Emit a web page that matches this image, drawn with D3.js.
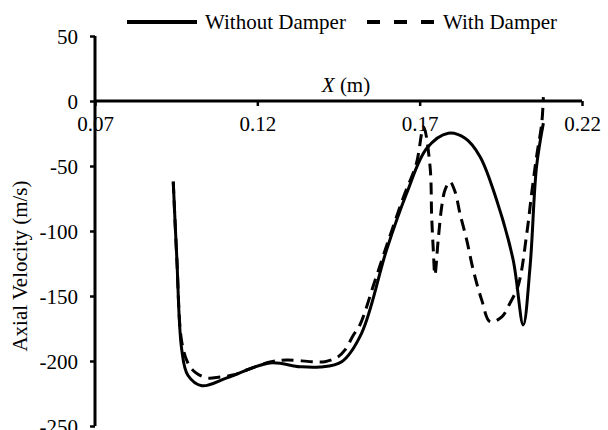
<!DOCTYPE html>
<html>
<head>
<meta charset="utf-8">
<script src="https://cdn.jsdelivr.net/npm/d3@7"></script>
<style>
  body { margin: 0; background: #fff; }
  svg text { font-family: "Liberation Serif", "Times New Roman", serif; font-size: 21px; fill: #000; }
</style>
</head>
<body>
<div id="chart"></div>
<script>
// 数据：点 (X 单位 m, 速度 m/s)
const xTicks = [0.07, 0.12, 0.17, 0.22];
const yTicks = [50, 0, -50, -100, -150, -200, -250];

const withoutX = [0.0941, 0.0952, 0.0967, 0.0986, 0.1029, 0.1106, 0.1239, 0.1331, 0.1393, 0.1460,
  0.1521, 0.1598, 0.1660, 0.1722, 0.1788, 0.1840, 0.1886, 0.1937, 0.1988, 0.2019, 0.2040, 0.2060, 0.2081];
const withoutY = [-62, -121, -191, -211, -219, -213, -201.5, -204.4, -204.6, -200.5,
  -178.7, -114.6, -71, -36.4, -24.8, -28.7, -42.8, -76.2, -122.3, -172.3, -127.5, -50.5, -17];

const withX = [0.0941, 0.0952, 0.0967, 0.0986, 0.1008, 0.1044, 0.1085, 0.1125, 0.1167, 0.1239, 0.1290,
  0.1367, 0.1408, 0.1449, 0.1470, 0.1496, 0.1516, 0.1560, 0.1600, 0.1650, 0.1690, 0.1712,
  0.1732, 0.1737, 0.1742, 0.1747, 0.1757, 0.1768, 0.1778, 0.1793, 0.1809, 0.1824, 0.1845, 0.1865,
  0.1891, 0.1917, 0.1953, 0.1978, 0.2004, 0.2030, 0.2045, 0.2060, 0.2076, 0.2081];
const withY = [-62, -121, -185, -201.5, -208.5, -213, -212.3, -210.8, -206.9, -200.8, -199.2,
  -200.5, -200.5, -196.7, -191.5, -180, -172.3, -140, -110, -74, -48, -20,
  -50.5, -89, -114.6, -133.8, -107, -81, -68.5, -62, -69.8, -86.4, -107, -130,
  -153, -169.8, -166, -155.6, -141.5, -101.8, -71, -42.8, -17.2, 3];

const W = 608, H = 430;
const svg = d3.select('#chart').append('svg')
  .attr('width', W).attr('height', H);

const x = d3.scaleLinear().domain([0.07, 0.22]).range([95, 582]);
const y = d3.scaleLinear().domain([-250, 50]).range([426, 36]);

// Y 轴
const yAxis = svg.append('g')
  .attr('transform', `translate(${x(0.07)},0)`)
  .call(d3.axisLeft(y).tickValues(yTicks).tickSize(5).tickPadding(12).tickFormat(d3.format('d')));
yAxis.select('.domain').attr('stroke-width', 3).attr('d', `M0,${y(50)}V${y(-250)}`);
yAxis.selectAll('.tick line').attr('stroke-width', 2.5);
yAxis.selectAll('.tick text').attr('dy', '0.34em').text(d => String(d));

// X 轴 (在 y=0 处)
const xAxis = svg.append('g')
  .attr('transform', `translate(0,${y(0)})`)
  .call(d3.axisBottom(x).tickValues(xTicks).tickSize(5).tickPadding(10).tickFormat(d3.format('.2f')));
xAxis.select('.domain').attr('stroke-width', 3).attr('d', `M${x(0.07)},0H${x(0.22)}`);
xAxis.selectAll('.tick line').attr('stroke-width', 2.5);

// 轴标题
const xTitle = svg.append('text').attr('x', 346).attr('y', 92).attr('text-anchor', 'middle');
xTitle.append('tspan').style('font-style', 'italic').text('X');
xTitle.append('tspan').text(' (m)');

svg.append('text')
  .attr('transform', `translate(27,266) rotate(-90)`)
  .attr('text-anchor', 'middle')
  .text('Axial Velocity (m/s)');

// 曲线
const line = d3.line()
  .x(d => x(d[0])).y(d => y(d[1]))
  .curve(d3.curveCatmullRom.alpha(0.5));

svg.append('path')
  .datum(d3.zip(withoutX, withoutY))
  .attr('d', line)
  .attr('fill', 'none').attr('stroke', '#000').attr('stroke-width', 3)
  .attr('stroke-linejoin', 'round');

svg.append('path')
  .datum(d3.zip(withX, withY))
  .attr('d', line)
  .attr('fill', 'none').attr('stroke', '#000').attr('stroke-width', 3)
  .attr('stroke-dasharray', '12,7');

// 图例
const legend = svg.append('g');
legend.append('line').attr('x1', 127).attr('x2', 197).attr('y1', 22).attr('y2', 22)
  .attr('stroke', '#000').attr('stroke-width', 4);
legend.append('text').attr('x', 205).attr('y', 29).text('Without Damper');
legend.append('line').attr('x1', 367).attr('x2', 434).attr('y1', 22).attr('y2', 22)
  .attr('stroke', '#000').attr('stroke-width', 4).attr('stroke-dasharray', '13,14');
legend.append('text').attr('x', 443).attr('y', 29).text('With Damper');
</script>
</body>
</html>
